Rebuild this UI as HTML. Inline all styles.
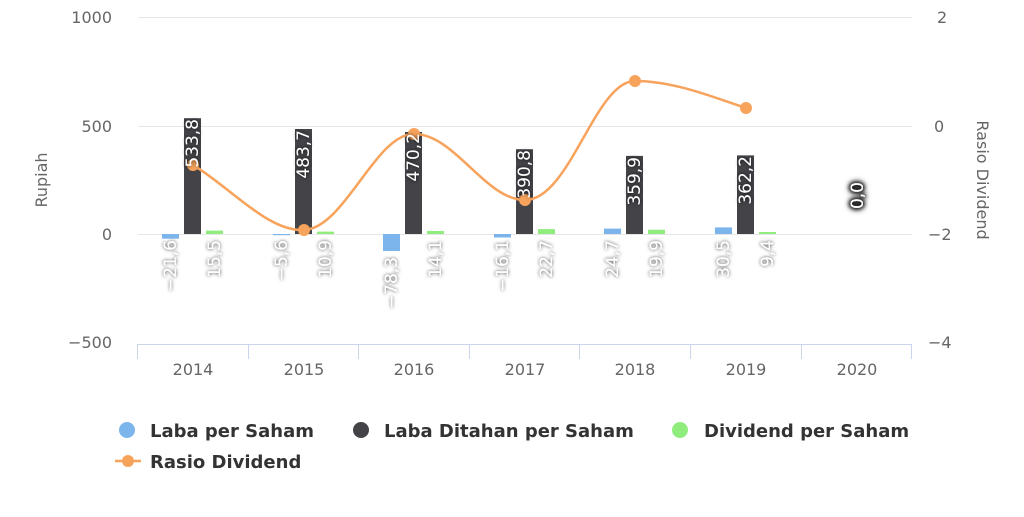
<!DOCTYPE html>
<html><head><meta charset="utf-8"><style>
body{margin:0;background:#fff}
svg text{font-family:"DejaVu Sans","Liberation Sans",sans-serif}
.ax{fill:#666;font-size:16px}
.dl{fill:#fff;font-size:17px;filter:url(#sh)}
.lg{fill:#333;font-size:18px;font-weight:bold}
</style></head><body>
<svg width="1024" height="512" xmlns="http://www.w3.org/2000/svg">
<defs><filter id="sh" x="-50%" y="-50%" width="200%" height="200%"><feDropShadow dx="0" dy="0" stdDeviation="1.8" flood-color="#000" flood-opacity="0.8"/></filter>
<filter id="sh2" x="-50%" y="-50%" width="200%" height="200%"><feDropShadow dx="0" dy="0" stdDeviation="2.5" flood-color="#000" flood-opacity="1"/><feDropShadow dx="0" dy="0" stdDeviation="2" flood-color="#000" flood-opacity="1"/></filter></defs>
<g stroke="#e6e6e6" stroke-width="1">
<line x1="138" y1="17.5" x2="912" y2="17.5"/>
<line x1="138" y1="126.5" x2="912" y2="126.5"/>
<line x1="138" y1="234.5" x2="912" y2="234.5"/>
</g>
<g stroke="#ccd6eb" stroke-width="1">
<line x1="137" y1="344.5" x2="912" y2="344.5"/>
<line x1="137.5" y1="344" x2="137.5" y2="359"/>
<line x1="248.5" y1="344" x2="248.5" y2="359"/>
<line x1="358.5" y1="344" x2="358.5" y2="359"/>
<line x1="469.5" y1="344" x2="469.5" y2="359"/>
<line x1="579.5" y1="344" x2="579.5" y2="359"/>
<line x1="690.5" y1="344" x2="690.5" y2="359"/>
<line x1="801.5" y1="344" x2="801.5" y2="359"/>
<line x1="911.5" y1="344" x2="911.5" y2="359"/>
</g>
<g class="ax" text-anchor="end">
<text x="112" y="23">1000</text><text x="112" y="132">500</text><text x="112" y="240">0</text><text x="112" y="348">−500</text>
</g>
<g class="ax" text-anchor="start">
<text x="937" y="23">2</text><text x="934" y="132">0</text><text x="928" y="240">−2</text><text x="928" y="348">−4</text>
</g>
<text class="ax" font-size="17" transform="translate(47,180) rotate(-90)" text-anchor="middle">Rupiah</text>
<text class="ax" font-size="17" transform="translate(977,180) rotate(90)" text-anchor="middle">Rasio Dividend</text>
<g class="ax" text-anchor="middle">
<text x="193" y="375">2014</text><text x="304" y="375">2015</text><text x="414" y="375">2016</text><text x="525" y="375">2017</text><text x="635" y="375">2018</text><text x="746" y="375">2019</text><text x="857" y="375">2020</text>
</g>
<g fill="#7cb5ec">
<rect x="162" y="234" width="17" height="4.7"/>
<rect x="273" y="234" width="17" height="1.2"/>
<rect x="383" y="234" width="17" height="17"/>
<rect x="494" y="234" width="17" height="3.5"/>
<rect x="604" y="228.6" width="17" height="5.4"/>
<rect x="715" y="227.4" width="17" height="6.6"/>
</g>
<g fill="#434348">
<rect x="184" y="118.2" width="17" height="115.8"/>
<rect x="295" y="129" width="17" height="105"/>
<rect x="405" y="132" width="17" height="102"/>
<rect x="516" y="149.2" width="17" height="84.8"/>
<rect x="626" y="155.9" width="17" height="78.1"/>
<rect x="737" y="155.4" width="17" height="78.6"/>
</g>
<g fill="#90ed7d">
<rect x="206" y="230.6" width="17" height="3.4"/>
<rect x="317" y="231.6" width="17" height="2.4"/>
<rect x="427" y="231" width="17" height="3"/>
<rect x="538" y="229.1" width="17" height="4.9"/>
<rect x="648" y="229.7" width="17" height="4.3"/>
<rect x="759" y="232" width="17" height="2"/>
</g>
<path d="M193,165 C230,187 268,232 304,230 C345,228 375,134 414,134 C455,134 485,200 525,200 C570,200 595,81 635,81 C675,81 715,98 746,108" fill="none" stroke="#f7a35c" stroke-width="2.5"/>
<g fill="#f7a35c">
<circle cx="193" cy="165" r="6"/><circle cx="304" cy="230" r="6"/><circle cx="414" cy="134" r="6"/><circle cx="525" cy="200" r="6"/><circle cx="635" cy="81" r="6"/><circle cx="746" cy="108" r="6"/>
</g>
<g class="dl" text-anchor="end">
<text transform="translate(198,119) rotate(-90)">533,8</text>
<text transform="translate(309,130) rotate(-90)">483,7</text>
<text transform="translate(419,133) rotate(-90)">470,2</text>
<text transform="translate(530,150) rotate(-90)">390,8</text>
<text transform="translate(640,157) rotate(-90)">359,9</text>
<text transform="translate(751,156) rotate(-90)">362,2</text>
<text transform="translate(863,182) rotate(-90)" style="filter:url(#sh2)">0,0</text>
<text transform="translate(176,240) rotate(-90)">−21,6</text>
<text transform="translate(220,240) rotate(-90)">15,5</text>
<text transform="translate(287,240) rotate(-90)">−5,6</text>
<text transform="translate(331,240) rotate(-90)">10,9</text>
<text transform="translate(397,257) rotate(-90)">−78,3</text>
<text transform="translate(441,240) rotate(-90)">14,1</text>
<text transform="translate(508,240) rotate(-90)">−16,1</text>
<text transform="translate(552,240) rotate(-90)">22,7</text>
<text transform="translate(618,240) rotate(-90)">24,7</text>
<text transform="translate(662,240) rotate(-90)">19,9</text>
<text transform="translate(729,240) rotate(-90)">30,5</text>
<text transform="translate(773,240) rotate(-90)">9,4</text>
</g>
<circle cx="127" cy="430" r="8" fill="#7cb5ec"/><text class="lg" x="150" y="437">Laba per Saham</text>
<circle cx="361" cy="430" r="8" fill="#434348"/><text class="lg" x="384" y="437">Laba Ditahan per Saham</text>
<circle cx="680" cy="430" r="8" fill="#90ed7d"/><text class="lg" x="704" y="437">Dividend per Saham</text>
<line x1="115" y1="461" x2="141" y2="461" stroke="#f7a35c" stroke-width="2.5"/><circle cx="128" cy="461" r="6" fill="#f7a35c"/><text class="lg" x="150" y="468">Rasio Dividend</text>
</svg>
</body></html>
